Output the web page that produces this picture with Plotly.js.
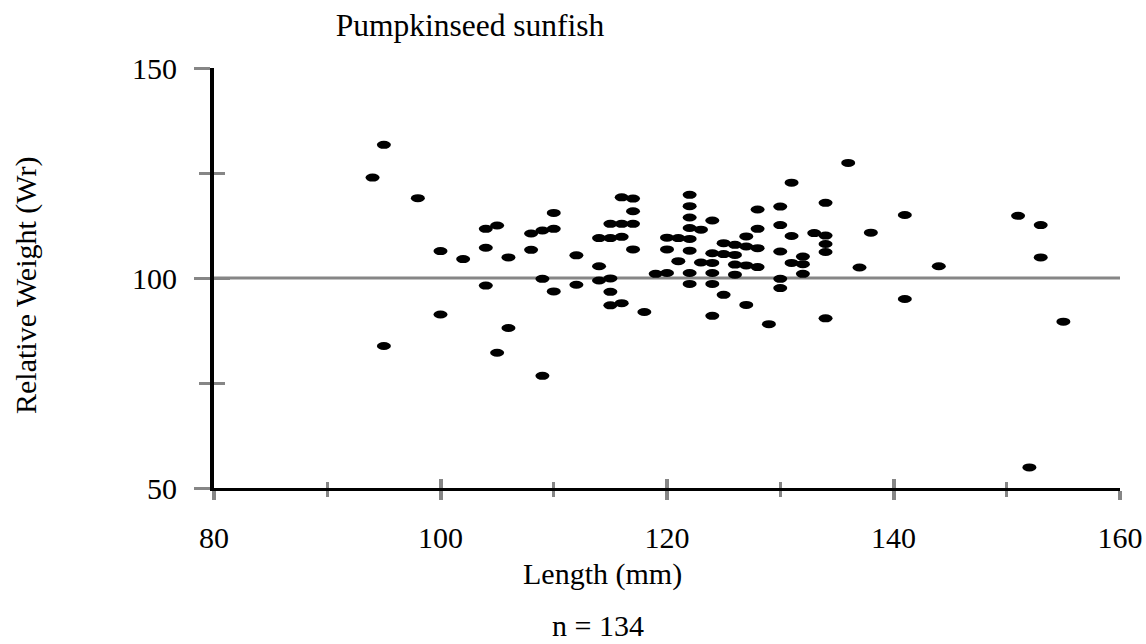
<!DOCTYPE html>
<html>
<head>
<meta charset="utf-8">
<script src="https://cdn.plot.ly/plotly-3.0.1.min.js"></script>
<style>html,body{margin:0;padding:0;background:#fff;}#chart{width:1146px;height:644px;}</style>
</head>
<body>
<div id="chart"></div>
<script>
// ---- data ----
const lengthMM = [94,95,95,98,100,100,102,104,104,104,105,105,106,106,108,108,109,109,109,110,110,110,112,112,
  114,114,114,115,115,115,115,115,116,116,116,116,117,117,117,117,118,119,120,120,120,121,121,
  122,122,122,122,122,122,122,122,123,123,124,124,124,124,124,124,125,125,125,126,126,126,126,
  127,127,127,127,128,128,128,128,129,130,130,130,130,130,131,131,131,132,132,132,133,
  134,134,134,134,134,136,137,138,141,141,144,151,152,153,153,155];
const relWeight = [123.9,131.7,83.8,119.0,106.4,91.3,104.5,111.7,107.2,98.2,112.5,82.2,104.9,88.1,110.6,106.7,111.3,99.8,76.7,115.5,111.7,96.8,105.4,98.4,
  109.5,102.8,99.4,112.9,109.5,99.9,96.7,93.5,119.2,112.9,109.8,94.0,118.9,115.9,112.9,106.8,91.9,101.0,109.6,106.8,101.2,109.5,104.0,
  119.8,117.1,114.4,111.9,109.3,106.5,101.2,98.6,111.5,103.7,113.7,105.9,103.6,101.2,98.6,91.0,108.3,105.7,96.0,107.9,105.5,103.2,100.8,
  109.9,107.5,103.0,93.6,116.3,111.7,107.1,102.6,89.0,117.0,112.6,106.3,99.8,97.6,122.7,110.0,103.6,105.1,103.3,101.0,110.7,
  117.9,110.1,108.1,106.2,90.4,127.4,102.5,110.8,115.0,95.0,102.8,114.8,54.9,112.6,104.9,89.6];
const xRange = [80, 160];
const yRange = [50, 150];
const referenceWr = 100;
const chartTitle = 'Pumpkinseed sunfish';
const xTitle = 'Length (mm)';
const yTitle = 'Relative Weight (Wr)';
const sampleNote = 'n = 134';

// ---- styling ----
const FONT = 'Liberation Serif, Times New Roman, serif';
const GRAY = '#868686';
const W = 1146, H = 644;
const M = {l: 214, r: 26, t: 68, b: 156};
const plotW = W - M.l - M.r, plotH = H - M.t - M.b;

const traces = [
  {x: lengthMM, y: relWeight, type: 'scatter', mode: 'markers',
   marker: {color: 'black', size: 8, line: {width: 0}}, xaxis: 'x', yaxis: 'y', hoverinfo: 'skip'},
  {x: [], y: [], type: 'scatter', mode: 'markers', xaxis: 'x2', yaxis: 'y2', hoverinfo: 'skip'}
];

const tickFont = {family: FONT, size: 30, color: 'black'};
const xTicks = (side) => ({
  range: xRange, tick0: 80, dtick: 20, ticks: side, ticklen: 9, tickwidth: 4, tickcolor: GRAY,
  minor: {ticks: side, tick0: 80, dtick: 10, ticklen: 6, tickwidth: 3, tickcolor: GRAY},
  showgrid: false, zeroline: false, fixedrange: true
});
const yTicks = (side) => ({
  range: yRange, tick0: 50, dtick: 50, ticks: side, ticklen: 16, tickwidth: 3, tickcolor: GRAY,
  minor: {ticks: side, tick0: 50, dtick: 25, ticklen: 11, tickwidth: 3, tickcolor: GRAY},
  showgrid: false, zeroline: false, fixedrange: true
});

const layout = {
  width: W, height: H, autosize: false,
  margin: M, paper_bgcolor: 'white', plot_bgcolor: 'white',
  showlegend: false,
  font: {family: FONT, color: 'black'},
  title: {text: chartTitle, font: {family: FONT, size: 31.5, color: 'black'},
          x: 470 / W, xref: 'container', xanchor: 'center', y: 1 - 25 / H, yref: 'container', yanchor: 'middle'},
  xaxis: Object.assign(xTicks('outside'), {showline: true, linecolor: 'black', linewidth: 2.5,
          tickfont: tickFont, ticklabelstandoff: 12}),
  xaxis2: Object.assign(xTicks('inside'), {overlaying: 'x', anchor: 'y2', side: 'bottom', showticklabels: false, showline: false}),
  yaxis: Object.assign(yTicks('outside'), {showline: true, linecolor: 'black', linewidth: 4,
          tickfont: tickFont, ticklabelstandoff: 11}),
  yaxis2: Object.assign(yTicks('inside'), {overlaying: 'y', anchor: 'x2', side: 'left', showticklabels: false, showline: false}),
  shapes: [
    {type: 'line', xref: 'paper', x0: 0, x1: 1, yref: 'y', y0: referenceWr, y1: referenceWr,
     line: {color: GRAY, width: 3}, layer: 'below'}
  ],
  annotations: [
    {text: xTitle, xref: 'paper', yref: 'paper', x: (602 - M.l) / plotW, y: (M.t + plotH - 574) / plotH,
     xanchor: 'center', yanchor: 'middle', showarrow: false, font: {family: FONT, size: 30, color: 'black'}},
    {text: sampleNote, xref: 'paper', yref: 'paper', x: (598 - M.l) / plotW, y: (M.t + plotH - 625) / plotH,
     xanchor: 'center', yanchor: 'middle', showarrow: false, font: {family: FONT, size: 30, color: 'black'}},
    {text: yTitle, xref: 'paper', yref: 'paper', x: (26 - M.l) / plotW, y: (M.t + plotH - 286) / plotH,
     xanchor: 'center', yanchor: 'middle', textangle: -90, showarrow: false, font: {family: FONT, size: 30, color: 'black'}}
  ]
};

Plotly.newPlot('chart', traces, layout, {displayModeBar: false, staticPlot: true}).then(function (gd) {
  // stretch the library-placed circular markers horizontally into ellipses (as in the reference)
  gd.querySelectorAll('.scatterlayer .trace path.point').forEach(function (p) {
    const t = p.getAttribute('transform') || '';
    if (t.indexOf('scale') === -1) p.setAttribute('transform', t + ' scale(1.75,1)');
  });
});
</script>
</body>
</html>
